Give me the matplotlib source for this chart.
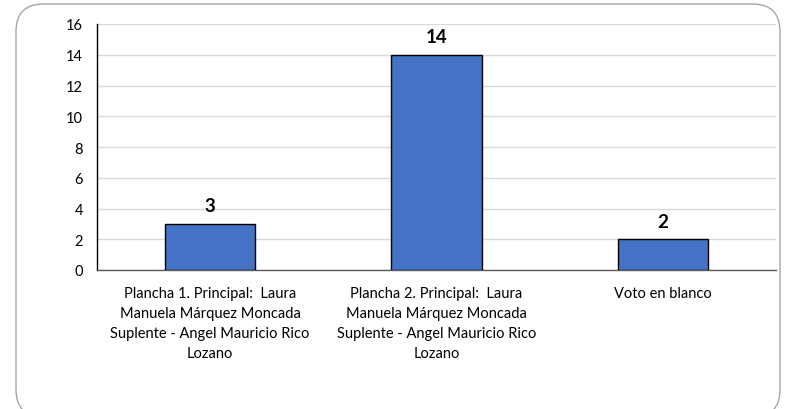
import matplotlib

matplotlib.use("Agg")

from matplotlib import pyplot as plt
from matplotlib.patches import FancyBboxPatch

categories = [
    "Plancha 1. Principal:  Laura\nManuela Márquez Moncada\nSuplente - Angel Mauricio Rico\nLozano",
    "Plancha 2. Principal:  Laura\nManuela Márquez Moncada\nSuplente - Angel Mauricio Rico\nLozano",
    "Voto en blanco",
]
votes = [3, 14, 2]
y_ticks = [0, 2, 4, 6, 8, 10, 12, 14, 16]

BAR_COLOR = "#4472C4"
GRID_COLOR = "#d9d9d9"
TEXT_COLOR = "#000000"

plt.rcParams["font.family"] = ["Lato", "DejaVu Sans"]

fig = plt.figure(figsize=(7.86, 4.10), dpi=100)
fig.patch.set_facecolor("white")

# rounded chart frame, kept behind the axes
frame = FancyBboxPatch(
    (16 / 786, -8 / 410), (764 / 786), (405 / 410) + 8 / 410,
    boxstyle="round,pad=0,rounding_size=0.035",
    transform=fig.transFigure, facecolor="white", edgecolor="#a6a6a6",
    linewidth=1.0, mutation_aspect=786 / 410, clip_on=False, zorder=-1,
)
fig.patches.append(frame)

ax = fig.add_axes([97 / 786, 1 - 271 / 410, (776 - 97) / 786, (271 - 25) / 410])
ax.set_facecolor("none")
ax.set_zorder(1)

x = list(range(len(categories)))
bars = ax.bar(x, votes, width=0.4, color=BAR_COLOR, edgecolor="black", linewidth=1.0, zorder=3)

for rect, value in zip(bars, votes):
    ax.annotate(
        str(value),
        (rect.get_x() + rect.get_width() / 2, rect.get_height()),
        xytext=(0, 7),
        textcoords="offset points",
        ha="center",
        va="bottom",
        fontsize=13.5,
        fontweight="bold",
        color=TEXT_COLOR,
    )

ax.set_xlim(-0.5, len(categories) - 0.5)
ax.set_ylim(0, 16)
ax.set_yticks(y_ticks)
ax.set_xticks(x)
ax.set_xticklabels(categories, fontsize=10.5, linespacing=1.55, color=TEXT_COLOR)
ax.tick_params(axis="y", labelsize=10.5, length=0, pad=10, colors=TEXT_COLOR)
ax.tick_params(axis="x", length=0, pad=11.5)
ax.yaxis.grid(True, color=GRID_COLOR, linewidth=1.0, zorder=0)
ax.set_axisbelow(True)

for side in ("top", "right"):
    ax.spines[side].set_visible(False)
ax.spines["left"].set_color("black")
ax.spines["left"].set_linewidth(1.0)
ax.spines["bottom"].set_color("#595959")
ax.spines["bottom"].set_linewidth(1.0)

fig.savefig("out.png", dpi=100, facecolor=fig.get_facecolor())
